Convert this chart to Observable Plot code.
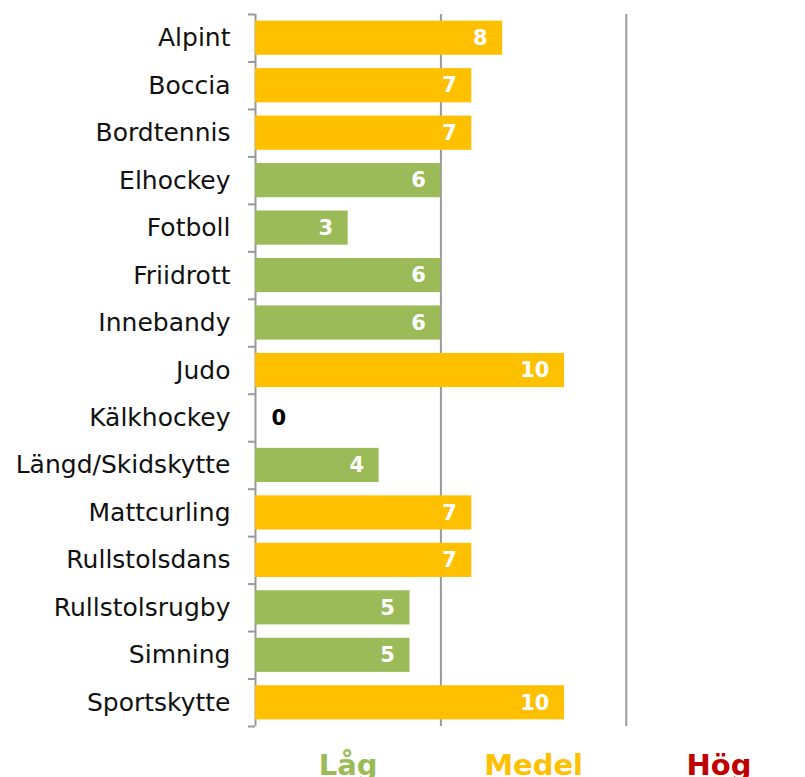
<!DOCTYPE html>
<html>
<head>
<meta charset="utf-8">
<script src="https://cdn.jsdelivr.net/npm/d3@7"></script>
<script src="https://cdn.jsdelivr.net/npm/@observablehq/plot@0.6"></script>
<style>
  html, body { margin: 0; padding: 0; background: #fff; }
  #chart svg { display: block; }
</style>
</head>
<body>
<div id="chart"></div>
<script>
const categories = ["Alpint","Boccia","Bordtennis","Elhockey","Fotboll","Friidrott","Innebandy","Judo","Kälkhockey","Längd/Skidskytte","Mattcurling","Rullstolsdans","Rullstolsrugby","Simning","Sportskytte"];
const values = [8,7,7,6,3,6,6,10,0,4,7,7,5,5,10];
const levelNames = ["Låg","Medel","Hög"];
const levelCenters = [3,9,15];
const levelColors = ["#9BBB59","#FFC000","#C00000"];
const levelBreaks = [6.5, 12.5];
const gridValues = [6, 12];

const data = categories.map((c, i) => ({name: c, value: values[i]}));
const levels = levelNames.map((n, i) => ({name: n, x: levelCenters[i], color: levelColors[i]}));

const W = 805, H = 777, mt = 14, mb = 51, ml = 255;
const step = (H - mt - mb) / categories.length;
const tickLen = 7 / ((W - ml) / 17.8);

const chart = Plot.plot({
  width: W,
  height: H,
  marginTop: mt,
  marginBottom: mb,
  marginLeft: ml,
  marginRight: 0,
  style: {fontFamily: "DejaVu Sans", background: "#fff"},
  x: {domain: [0, 17.8], axis: null},
  y: {domain: categories, paddingInner: 0.28, paddingOuter: 0.14, round: false, label: null, tickSize: 0, tickPadding: 25},
  color: {type: "threshold", domain: levelBreaks, range: levelColors},
  marks: [
    Plot.ruleX(gridValues, {stroke: "#999", strokeWidth: 2}),
    Plot.ruleX([0], {stroke: "#999", strokeWidth: 2}),
    Plot.ruleY(categories, {y: d => d, x1: -tickLen, x2: 0, dy: -step / 2, stroke: "#999", strokeWidth: 2}),
    Plot.ruleY(categories.slice(-1), {y: d => d, x1: -tickLen, x2: 0, dy: step / 2, stroke: "#999", strokeWidth: 2}),
    Plot.barX(data, {y: "name", x: "value", fill: d => d.value}),
    Plot.axisY({tickSize: 0, tickPadding: 25, fontSize: 25, fill: "#111", label: null}),
    Plot.text(data.filter(d => d.value > 0), {y: "name", x: "value", text: d => String(d.value), textAnchor: "end", dx: -15, fill: "#fff", fontWeight: "bold", fontSize: 21}),
    Plot.text(data.filter(d => d.value === 0), {y: "name", x: "value", text: d => String(d.value), textAnchor: "start", dx: 16, fill: "#000", fontWeight: "bold", fontSize: 21}),
    Plot.text(levels, {x: "x", text: "name", fill: "color", frameAnchor: "bottom", lineAnchor: "top", dy: 28, fontSize: 29, fontWeight: "bold"})
  ]
});
document.getElementById("chart").appendChild(chart);
</script>
</body>
</html>
